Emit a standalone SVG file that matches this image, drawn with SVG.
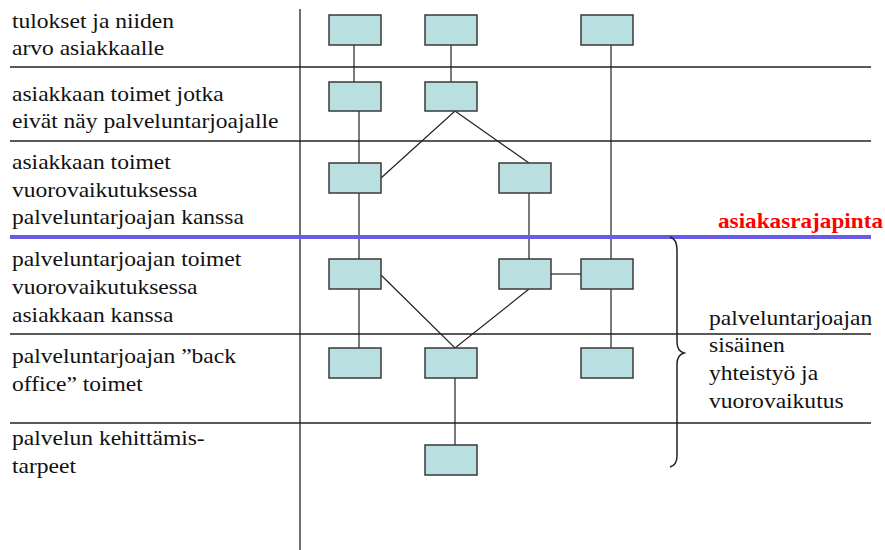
<svg xmlns="http://www.w3.org/2000/svg" width="885" height="550" viewBox="0 0 885 550">
<style>
.lbl{font-family:'Liberation Serif','DejaVu Serif','Times New Roman',serif;font-size:22px;fill:#111}
.box{fill:#b9dfe1;stroke:#3a3a3a;stroke-width:1.5}
.grid{stroke:#222;stroke-width:1.3;fill:none}
.con{stroke:#222;stroke-width:1.2;fill:none}
.red{font-family:'Liberation Serif','DejaVu Serif','Times New Roman',serif;font-size:21px;font-weight:bold;fill:#ff0000}
</style>
<rect width="885" height="550" fill="#fff"/>
<g id="grid">
<line class="grid" x1="300" y1="9" x2="300" y2="550"/>
<line class="grid" x1="10" y1="67" x2="871" y2="67"/>
<line class="grid" x1="10" y1="141" x2="871" y2="141"/>
<line class="grid" x1="10" y1="334" x2="871" y2="334"/>
<line class="grid" x1="10" y1="423" x2="871" y2="423"/>
</g>
<g id="labels" font-family="Liberation Serif, DejaVu Serif, serif">
<g transform="translate(12,0) scale(1.07,1)">
<text class="lbl" x="0" y="28">tulokset ja niiden</text>
<text class="lbl" x="0" y="55">arvo asiakkaalle</text>
<text class="lbl" x="0" y="101">asiakkaan toimet jotka</text>
<text class="lbl" x="0" y="128">eivät näy palveluntarjoajalle</text>
<text class="lbl" x="0" y="169">asiakkaan toimet</text>
<text class="lbl" x="0" y="197">vuorovaikutuksessa</text>
<text class="lbl" x="0" y="224">palveluntarjoajan kanssa</text>
<text class="lbl" x="0" y="266">palveluntarjoajan toimet</text>
<text class="lbl" x="0" y="294">vuorovaikutuksessa</text>
<text class="lbl" x="0" y="322">asiakkaan kanssa</text>
<text class="lbl" x="0" y="363">palveluntarjoajan ”back</text>
<text class="lbl" x="0" y="391">office” toimet</text>
<text class="lbl" x="0" y="445">palvelun kehittämis-</text>
<text class="lbl" x="0" y="473">tarpeet</text>
</g>
</g>
<g id="connectors">
<line class="con" x1="354" y1="45" x2="354" y2="82"/>
<line class="con" x1="359" y1="111" x2="359" y2="348"/>
<line class="con" x1="451" y1="45" x2="451" y2="82"/>
<polyline class="con" points="381,178 455,111 529,163"/>
<line class="con" x1="529" y1="193" x2="529" y2="259"/>
<polyline class="con" points="381,275 455,348 529,289"/>
<line class="con" x1="551" y1="274" x2="581" y2="274"/>
<line class="con" x1="611" y1="45" x2="611" y2="259"/>
<line class="con" x1="611" y1="289" x2="611" y2="348"/>
<line class="con" x1="455" y1="378" x2="455" y2="445"/>
</g>
<g id="interface">
<line x1="10" y1="237" x2="871" y2="237" stroke="#6a5ae8" stroke-width="4"/>
<text class="red" x="718" y="228" textLength="165" lengthAdjust="spacingAndGlyphs">asiakasrajapinta</text>
</g>
<g id="n1"><rect class="box" x="329" y="15" width="52" height="30"/></g>
<g id="n2"><rect class="box" x="425" y="15" width="52" height="30"/></g>
<g id="n3"><rect class="box" x="581" y="15" width="52" height="30"/></g>
<g id="n4"><rect class="box" x="329" y="82" width="52" height="29"/></g>
<g id="n5"><rect class="box" x="425" y="82" width="52" height="29"/></g>
<g id="n6"><rect class="box" x="329" y="163" width="52" height="30"/></g>
<g id="n7"><rect class="box" x="499" y="163" width="52" height="30"/></g>
<g id="n8"><rect class="box" x="329" y="259" width="52" height="30"/></g>
<g id="n9"><rect class="box" x="499" y="259" width="52" height="30"/></g>
<g id="n10"><rect class="box" x="581" y="259" width="52" height="30"/></g>
<g id="n11"><rect class="box" x="329" y="348" width="52" height="30"/></g>
<g id="n12"><rect class="box" x="425" y="348" width="52" height="30"/></g>
<g id="n13"><rect class="box" x="581" y="348" width="52" height="30"/></g>
<g id="n14"><rect class="box" x="425" y="445" width="52" height="30"/></g>
<g id="brace">
<path d="M670,237 Q677,239 677,250 L677,342 Q677,351 684,353 Q677,355 677,364 L677,456 Q677,465 670,467" fill="none" stroke="#222" stroke-width="1.5"/>
<g transform="translate(709,0) scale(1.07,1)">
<text class="lbl" x="0" y="325">palveluntarjoajan</text>
<text class="lbl" x="0" y="352">sisäinen</text>
<text class="lbl" x="0" y="380">yhteistyö ja</text>
<text class="lbl" x="0" y="408">vuorovaikutus</text>
</g>
</g>
</svg>
